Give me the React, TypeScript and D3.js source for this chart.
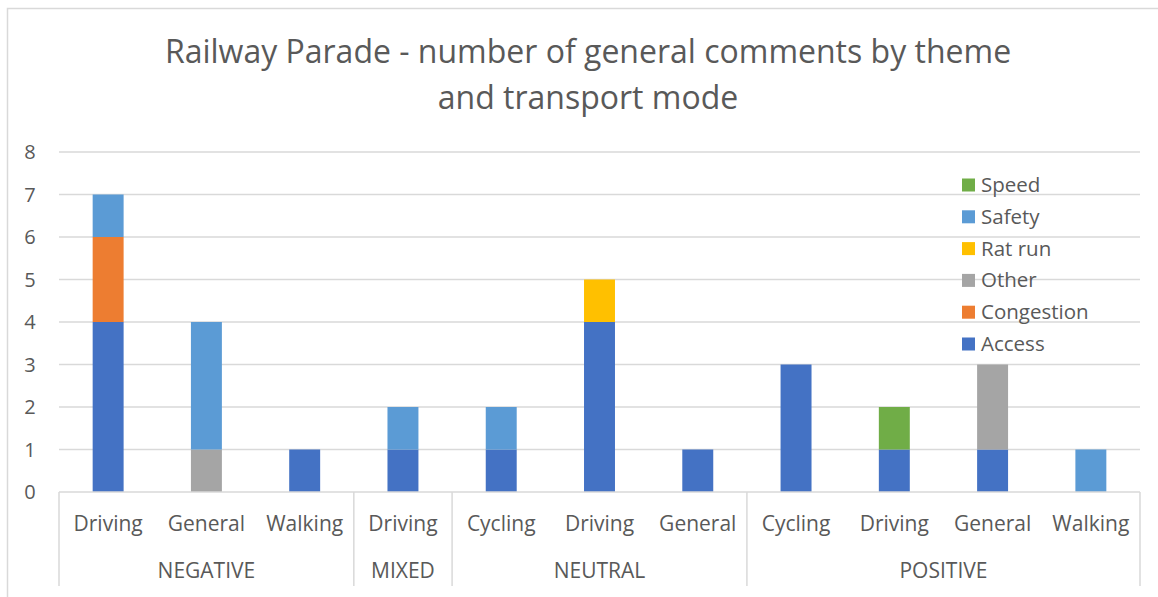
import { useEffect, useRef } from "react";
import * as d3 from "d3";

const groups = ["NEGATIVE", "MIXED", "NEUTRAL", "POSITIVE"];
const modes = [
  ["Driving", "General", "Walking"],
  ["Driving"],
  ["Cycling", "Driving", "General"],
  ["Cycling", "Driving", "General", "Walking"],
];
const themes = ["Access", "Congestion", "Other", "Rat run", "Safety", "Speed"];
const colors = ["#4472C4", "#ED7D31", "#A5A5A5", "#FFC000", "#5B9BD5", "#70AD47"];

// one entry per column, in theme order
const access = [4, 0, 1, 1, 1, 4, 1, 3, 1, 1, 0];
const congestion = [2, 0, 0, 0, 0, 0, 0, 0, 0, 0, 0];
const other = [0, 1, 0, 0, 0, 0, 0, 0, 0, 2, 0];
const ratRun = [0, 0, 0, 0, 0, 1, 0, 0, 0, 0, 0];
const safety = [1, 3, 0, 1, 1, 0, 0, 0, 0, 0, 1];
const speed = [0, 0, 0, 0, 0, 0, 0, 0, 1, 0, 0];
const yTicks = [0, 1, 2, 3, 4, 5, 6, 7, 8];

const W = 1158;
const H = 597;
const FONT = "'Open Sans', 'Noto Sans', sans-serif";
const TXT = "#595959";

const App = () => {
  const svgRef = useRef(null);

  useEffect(() => {
    const svg = d3.select(svgRef.current);
    svg.selectAll("*").remove();

    const left = 59, right = 1140, top = 152, bottom = 492;
    const columns = modes.flatMap((ms, gi) => ms.map((m, mi) => ({ group: groups[gi], mode: m, key: `${gi}-${mi}` })));
    const series = [access, congestion, other, ratRun, safety, speed];
    const rows = columns.map((c, i) => {
      const r: any = { key: c.key };
      themes.forEach((t, ti) => (r[t] = series[ti][i]));
      return r;
    });

    const x = d3.scaleBand().domain(columns.map((c) => c.key)).range([left, right]);
    const y = d3.scaleLinear().domain([0, 8]).range([bottom, top]);
    const barW = x.bandwidth() * 0.315;

    // chart frame (cropped on right/bottom)
    svg.append("path")
      .attr("d", `M7.5,${H + 2}V8.5H${W + 2}`)
      .attr("fill", "none")
      .attr("stroke", "#d9d9d9")
      .attr("stroke-width", 1.5);

    // gridlines
    svg.append("g")
      .selectAll("line")
      .data(yTicks.filter((t) => t > 0))
      .join("line")
      .attr("x1", left)
      .attr("x2", right)
      .attr("y1", (d) => y(d))
      .attr("y2", (d) => y(d))
      .attr("stroke", "#d9d9d9")
      .attr("stroke-width", 1.5);

    // y labels
    svg.append("g")
      .selectAll("text")
      .data(yTicks)
      .join("text")
      .attr("x", 30)
      .attr("y", (d) => y(d) + 7)
      .attr("text-anchor", "middle")
      .attr("font-family", FONT)
      .attr("font-size", 20)
      .attr("fill", TXT)
      .text((d) => d);

    // stacked bars
    const stacked = d3.stack().keys(themes)(rows);
    svg.append("g")
      .selectAll("g")
      .data(stacked)
      .join("g")
      .attr("fill", (_, i) => colors[i])
      .selectAll("rect")
      .data((d) => d.filter((p) => p[1] > p[0]))
      .join("rect")
      .attr("x", (d: any) => x(d.data.key)! + (x.bandwidth() - barW) / 2)
      .attr("width", barW)
      .attr("y", (d) => y(d[1]))
      .attr("height", (d) => y(d[0]) - y(d[1]));

    // category axis
    svg.append("line")
      .attr("x1", left).attr("x2", right)
      .attr("y1", bottom).attr("y2", bottom)
      .attr("stroke", "#d9d9d9").attr("stroke-width", 1.5);

    svg.append("g")
      .selectAll("text")
      .data(columns)
      .join("text")
      .attr("x", (d) => x(d.key)! + x.bandwidth() / 2)
      .attr("y", 531)
      .attr("text-anchor", "middle")
      .attr("font-family", FONT)
      .attr("font-size", 21)
      .attr("fill", TXT)
      .text((d) => d.mode);

    let start = 0;
    const bounds: number[] = [left];
    groups.forEach((g, gi) => {
      const n = modes[gi].length;
      const x0 = x(columns[start].key)!;
      const x1 = x(columns[start + n - 1].key)! + x.bandwidth();
      bounds.push(x1);
      svg.append("text")
        .attr("x", (x0 + x1) / 2)
        .attr("y", 578)
        .attr("text-anchor", "middle")
        .attr("font-family", FONT)
        .attr("font-size", 21)
        .attr("fill", TXT)
        .text(g);
      start += n;
    });
    svg.append("g")
      .selectAll("line")
      .data(bounds)
      .join("line")
      .attr("x1", (d) => d).attr("x2", (d) => d)
      .attr("y1", bottom).attr("y2", 586)
      .attr("stroke", "#d9d9d9").attr("stroke-width", 1.5);

    // title
    const title = svg.append("text")
      .attr("text-anchor", "middle")
      .attr("font-family", FONT)
      .attr("font-size", 32)
      .attr("fill", TXT);
    title.append("tspan").attr("x", 588).attr("y", 63).text("Railway Parade - number of general comments by theme");
    title.append("tspan").attr("x", 588).attr("y", 109).text("and transport mode");

    // legend (reversed order)
    const legendItems = themes.map((t, i) => ({ t, c: colors[i] })).reverse();
    const lg = svg.append("g")
      .selectAll("g")
      .data(legendItems)
      .join("g")
      .attr("transform", (_, i) => `translate(962, ${185 + i * 31.8})`);
    lg.append("rect").attr("x", 0).attr("y", -6.5).attr("width", 13).attr("height", 13).attr("fill", (d) => d.c);
    lg.append("text")
      .attr("x", 19)
      .attr("y", 7)
      .attr("font-family", FONT)
      .attr("font-size", 20.5)
      .attr("fill", TXT)
      .text((d) => d.t);
  }, []);

  return (
    <svg
      ref={svgRef}
      width={W}
      height={H}
      style={{ position: "absolute", left: 0, top: 0, background: "#fff" }}
    />
  );
};

export default App;
